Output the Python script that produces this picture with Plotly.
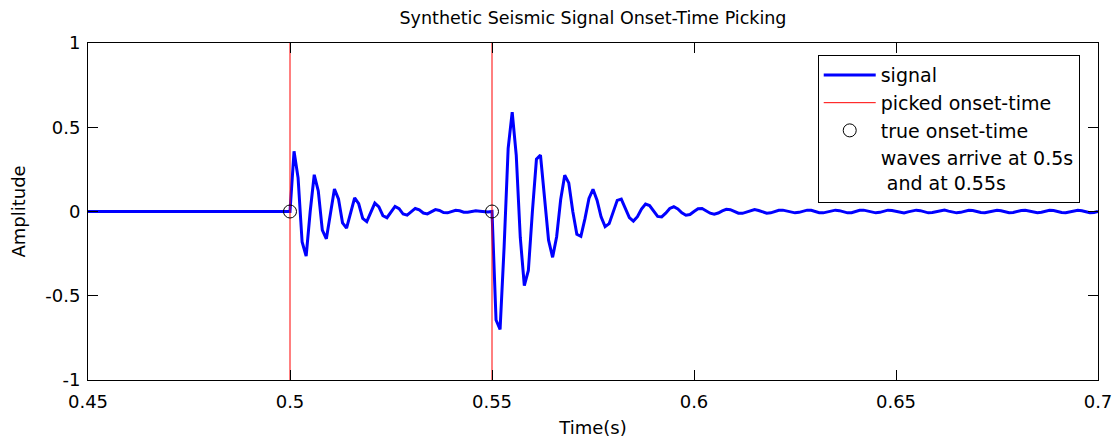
import numpy as np
import plotly.graph_objects as go

# ---- data ----
t_start, t_end, fs = 0.45, 0.70, 1000          # sampling grid (1 ms)
picked_onsets = [0.50, 0.55]                   # red vertical lines
true_onsets_t = [0.50, 0.55]                   # black circles
true_onsets_a = [0.0, 0.0]
y_range = [-1, 1]
x_ticks = [0.45, 0.5, 0.55, 0.6, 0.65, 0.7]
y_ticks = [-1, -0.5, 0, 0.5, 1]

# 0.450 .. 0.499 s : quiet
quiet_part = [0.0] * 50

# 0.500 .. 0.549 s : first arrival
first_wave = [
    0.000, 0.357, 0.200, -0.181, -0.265, 0.000, 0.218, 0.122, -0.111, -0.162,
    0.000, 0.133, 0.075, -0.067, -0.099, 0.000, 0.081, 0.046, -0.041, -0.060,
    0.000, 0.050, 0.028, -0.025, -0.037, 0.000, 0.030, 0.017, -0.015, -0.022,
    0.000, 0.018, 0.010, -0.009, -0.014, 0.000, 0.011, 0.006, -0.006, -0.008,
    0.000, 0.007, 0.004, -0.004, -0.005, 0.000, 0.004, 0.002, -0.002, -0.003,
]

# 0.550 .. 0.700 s : second arrival and coda
second_wave = [
    0.000, -0.644, -0.700, -0.210, 0.375, 0.590, 0.335, -0.154, -0.440, -0.350,
    0.000, 0.310, 0.335, 0.096, -0.170, -0.272, -0.150, 0.071, 0.215, 0.170,
    0.000, -0.135, -0.147, -0.044, 0.078, 0.132, 0.067, -0.032, -0.090, -0.072,
    0.000, 0.066, 0.074, 0.020, -0.036, -0.057, -0.031, 0.015, 0.044, 0.035,
    0.000, -0.029, -0.032, -0.010, 0.018, 0.028, 0.015, -0.008, -0.022, -0.018,
    0.000, 0.016, 0.018, 0.006, -0.010, -0.016, -0.009, 0.004, 0.013, 0.011,
    0.000, -0.010, -0.011, -0.004, 0.006, 0.011, 0.006, -0.003, -0.010, -0.008,
    0.000, 0.007, 0.008, 0.002, -0.005, -0.008, -0.005, 0.002, 0.008, 0.007,
    0.000, -0.007, -0.008, -0.002, 0.005, 0.008, 0.005, -0.002, -0.008, -0.007,
    0.000, 0.007, 0.008, 0.002, -0.005, -0.008, -0.005, 0.002, 0.008, 0.006,
    0.000, -0.006, -0.008, -0.002, 0.005, 0.008, 0.005, -0.002, -0.008, -0.006,
    0.000, 0.006, 0.008, 0.002, -0.005, -0.008, -0.005, 0.002, 0.007, 0.006,
    0.000, -0.006, -0.007, -0.002, 0.004, 0.007, 0.004, -0.002, -0.007, -0.006,
    0.000, 0.006, 0.007, 0.002, -0.004, -0.007, -0.004, 0.002, 0.007, 0.006,
    0.000, -0.006, -0.007, -0.002, 0.004, 0.007, 0.004, -0.002, -0.007, -0.006,
    0.000,
]

signal = quiet_part + first_wave + second_wave
time = np.round(t_start + np.arange(len(signal)) / fs, 3)

# ---- figure ----
FONT = "DejaVu Sans, Liberation Sans, Arial, sans-serif"
fig = go.Figure()

fig.add_trace(go.Scatter(
    x=time, y=signal, mode="lines", name="signal",
    line=dict(color="rgb(0,0,255)", width=3),
))

px, py = [], []
for p in picked_onsets:
    px += [p, p, None]
    py += [y_range[0], y_range[1], None]
fig.add_trace(go.Scatter(
    x=px, y=py, mode="lines", name="picked onset-time",
    line=dict(color="rgb(255,0,0)", width=1),
))

fig.add_trace(go.Scatter(
    x=true_onsets_t, y=true_onsets_a, mode="markers", name="true onset-time",
    marker=dict(symbol="circle-open", size=13, color="black", line=dict(width=1, color="black")),
))

fig.add_trace(go.Scatter(
    x=[None], y=[None], mode="lines", name="waves arrive at 0.5s<br> and at 0.55s",
    line=dict(color="rgba(0,0,0,0)", width=1),
))

axis_common = dict(
    showgrid=False, zeroline=False, showline=True, linecolor="black", linewidth=1,
    mirror="ticks", ticks="inside", ticklen=10, tickcolor="black", tickwidth=1,
    tickfont=dict(family=FONT, size=18, color="black"), automargin=False,
)

fig.update_layout(
    width=1118, height=443,
    margin=dict(l=88, r=20, t=43, b=63),
    paper_bgcolor="white", plot_bgcolor="white",
    font=dict(family=FONT, color="black"),
    title=dict(text="Synthetic Seismic Signal Onset-Time Picking",
               x=0.5304, xanchor="center", y=1 - 18 / 443, yanchor="middle",
               yref="container", font=dict(family=FONT, size=17.5, color="black")),
    xaxis=dict(range=[t_start, t_end], tickvals=x_ticks,
               ticktext=[f"{v:g}" for v in x_ticks], ticklabelstandoff=5,
               title=dict(text="Time(s)", font=dict(family=FONT, size=18, color="black"), standoff=10),
               **axis_common),
    yaxis=dict(range=y_range, tickvals=y_ticks,
               ticktext=[f"{v:g}" for v in y_ticks], ticklabelstandoff=3,
               title=dict(text="Amplitude", font=dict(family=FONT, size=18, color="black"), standoff=14),
               **axis_common),
    legend=dict(x=0.7225, xanchor="left", y=0.964, yanchor="top",
                bgcolor="white", bordercolor="black", borderwidth=1,
                font=dict(family=FONT, size=19, color="black"),
                itemwidth=52, tracegroupgap=0),
    showlegend=True,
)

fig.write_html("out.html")
